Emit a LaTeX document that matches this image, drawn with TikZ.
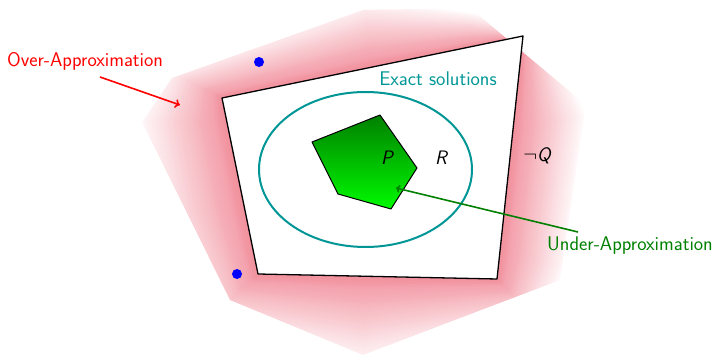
\documentclass[tikz,border=0pt]{standalone}
\usetikzlibrary{arrows.meta,calc}
\definecolor{pinkc}{RGB}{236,100,118}
\definecolor{tealc}{RGB}{0,150,150}
\definecolor{dgreen}{RGB}{0,128,0}
\definecolor{lgreen}{RGB}{0,250,0}
\begin{document}
\begin{tikzpicture}[x=1pt,y=-1pt,
  lbl/.style={font=\sffamily\fontsize{19.8}{22}\selectfont, inner sep=0pt},
  mathlbl/.style={font=\sffamily\slshape\fontsize{19.5}{22}\selectfont, inner sep=0pt},
  dot/.style={circle, fill=blue, inner sep=0pt, minimum size=10pt},
  quad/.style={fill=white, draw=black, line width=1.3pt, line join=round},
  exact/.style={draw=tealc, line width=2pt},
  penta/.style={draw=black, line width=1pt, line join=round, top color=dgreen, bottom color=lgreen},
  overarrow/.style={draw=red, line width=1.6pt, -{To[length=5pt,width=9pt]}},
  underarrow/.style={draw=dgreen, line width=1.6pt, -{To[length=4pt,width=8pt]}}]
\useasboundingbox (0,0) rectangle (715,355);
% inner ring (on the Q boundary) and outer fade ring
\coordinate (q1) at (227,122);  \coordinate (f1) at (135,122);
\coordinate (q2) at (222,98);   \coordinate (f2) at (162,68);
\coordinate (q3) at (370,68);   \coordinate (f3) at (366,-4);
\coordinate (q4) at (470,47);   \coordinate (f4) at (472,12);
\coordinate (q5) at (523,36);   \coordinate (f5) at (550,30);
\coordinate (q6) at (513,130);  \coordinate (f6) at (588,115);
\coordinate (q7) at (500,250);  \coordinate (f7) at (568,268);
\coordinate (q8) at (497,279);  \coordinate (f8) at (545,326);
\coordinate (q9) at (363,276);  \coordinate (f9) at (363,368);
\coordinate (q10) at (258,274); \coordinate (f10) at (198,330);
\coordinate (q11) at (245,210); \coordinate (f11) at (150,212);
% blurred over-approximation region (alpha falls linearly from Q outwards)
\begin{scope}
  \clip (142,122) -- (172,78) -- (363,10) -- (470,8) -- (586,105) -- (560,280) -- (363,355) -- (230,300) -- cycle;
  \foreach \k in {0,...,39}{
    \pgfmathsetmacro\op{(0.72/40)/(1-0.72+0.72*(\k+1)/40)}
    \pgfmathsetmacro\t{\k/40}
    \fill[fill=pinkc, fill opacity=\op]
      ($(q1)!\t!(f1)$) -- ($(q2)!\t!(f2)$) -- ($(q3)!\t!(f3)$) -- ($(q4)!\t!(f4)$)
      -- ($(q5)!\t!(f5)$) -- ($(q6)!\t!(f6)$) -- ($(q7)!\t!(f7)$) -- ($(q8)!\t!(f8)$)
      -- ($(q9)!\t!(f9)$) -- ($(q10)!\t!(f10)$) -- ($(q11)!\t!(f11)$) -- cycle;
  }
\end{scope}
% blue points
\node[dot] (b1) at (259,62) {};
\node[dot] (b2) at (237,274) {};
% Q region
\draw[quad] (222,98) -- (523,36) -- (497,279) -- (258,274) -- cycle;
% exact solutions
\draw[exact] (365.5,169.5) ellipse [x radius=106.5pt, y radius=77.5pt];
\node[lbl, text=tealc] (exl) at (438,79) {Exact solutions};
% under-approximation P
\draw[penta] (312,142) -- (380,115) -- (417,168) -- (391,209) -- (338,194) -- cycle;
\node[mathlbl] (P) at (387,158) {P};
\node[mathlbl] (R) at (441,158) {R};
\node[mathlbl] (nQ) at (537,156) {$\neg$Q};
% labels and arrows
\node[lbl, text=red] (over) at (85,61) {Over-Approximation};
\coordinate (overS) at (100,77);
\coordinate (overE) at (180,105);
\draw[overarrow] (overS) -- (overE);
\node[lbl, text=dgreen] (under) at (630,246) {Under-Approximation};
\coordinate (underS) at (578,232);
\coordinate (underE) at (396,188);
\draw[underarrow] (underS) -- (underE);
\end{tikzpicture}
\end{document}
